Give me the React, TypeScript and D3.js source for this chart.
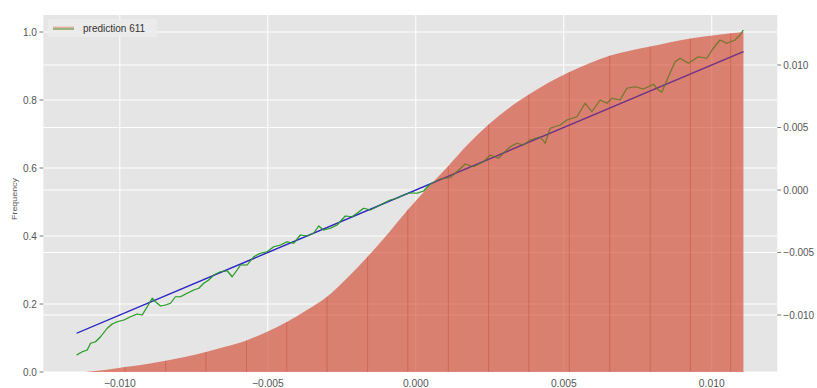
import React, { useEffect, useRef } from 'react';
import * as d3 from 'd3';

// cumulative histogram (left axis), read at bin edges
const binEdges = [
  -0.01118, -0.0105, -0.00982, -0.00913, -0.00845, -0.00777, -0.00709, -0.00641,
  -0.00572, -0.00504, -0.00436, -0.00368, -0.003, -0.00231, -0.00163, -0.00095,
  -0.00027, 0.00041, 0.0011, 0.00178, 0.00246, 0.00314, 0.00382, 0.00451,
  0.00519, 0.00587, 0.00655, 0.00723, 0.00792, 0.0086, 0.00928, 0.00996,
  0.01064, 0.01107,
];
const cumFreq = [
  0.0, 0.006, 0.015, 0.023, 0.033, 0.045, 0.059, 0.075,
  0.093, 0.118, 0.147, 0.182, 0.221, 0.277, 0.339, 0.406,
  0.477, 0.543, 0.606, 0.671, 0.728, 0.776, 0.816, 0.852,
  0.882, 0.908, 0.93, 0.945, 0.957, 0.97, 0.981, 0.989,
  0.996, 1.0,
];

// prediction 611 (right axis)
const predX = [
  -0.011462, -0.011269, -0.011101, -0.010989, -0.01082, -0.010652, -0.010425, -0.010257,
  -0.010088, -0.009865, -0.009639, -0.009413, -0.009244, -0.009075, -0.008906, -0.008795,
  -0.008626, -0.008457, -0.008288, -0.008119, -0.007951, -0.007725, -0.007502, -0.007333,
  -0.007164, -0.006995, -0.006826, -0.0066, -0.006374, -0.006205, -0.006036, -0.005925,
  -0.005699, -0.005476, -0.00525, -0.005024, -0.004801, -0.004575, -0.004348, -0.004126,
  -0.003899, -0.003673, -0.00345, -0.003282, -0.003113, -0.002887, -0.00266, -0.00238,
  -0.002154, -0.001985, -0.001762, -0.001536, -0.00131, -0.001087, -0.000861, -0.000635,
  -0.000412, -0.000186, 0.000041, 0.000263, 0.00049, 0.000827, 0.001165, 0.001391,
  0.001671, 0.001951, 0.002289, 0.002515, 0.002795, 0.002964, 0.00319, 0.003417,
  0.003639, 0.003866, 0.004203, 0.004372, 0.004541, 0.004878, 0.005105, 0.005442,
  0.005722, 0.005949, 0.006229, 0.006455, 0.006624, 0.006904, 0.00713, 0.007411,
  0.007691, 0.008028, 0.008197, 0.008312, 0.008535, 0.008761, 0.00893, 0.00921,
  0.009548, 0.009831, 0.010054, 0.01028, 0.010507, 0.010787, 0.010956, 0.011067,
];
const predY = [
  -0.0132, -0.01294, -0.0128, -0.01226, -0.01214, -0.01174, -0.01106, -0.01072,
  -0.01054, -0.0104, -0.01014, -0.00992, -0.01, -0.00934, -0.00866, -0.00894,
  -0.00928, -0.0092, -0.00906, -0.00854, -0.00854, -0.00826, -0.008, -0.00786,
  -0.00746, -0.0072, -0.0068, -0.00654, -0.00646, -0.00694, -0.0064, -0.006,
  -0.006, -0.00534, -0.00506, -0.00494, -0.00454, -0.0044, -0.00414, -0.00426,
  -0.0036, -0.00368, -0.00346, -0.00288, -0.0032, -0.00306, -0.0028, -0.00208,
  -0.00214, -0.00186, -0.00146, -0.0016, -0.00134, -0.00106, -0.0008, -0.00066,
  -0.0004, -0.00022, -0.00026, -0.00008, 0.00048, 0.00088, 0.001, 0.00146,
  0.00208, 0.00186, 0.00226, 0.0028, 0.00254, 0.00294, 0.00346, 0.00374,
  0.0036, 0.004, 0.00426, 0.00374, 0.00494, 0.0052, 0.0056, 0.00586,
  0.00694, 0.00626, 0.0072, 0.00694, 0.00734, 0.0072, 0.00814, 0.00826,
  0.00808, 0.00846, 0.008, 0.00782, 0.00906, 0.01026, 0.01054, 0.01014,
  0.01066, 0.01054, 0.01134, 0.012, 0.01174, 0.012, 0.0124, 0.0128,
];

// identity reference line
const fitX = [-0.01146, 0.01107];
const fitY = [-0.01146, 0.01107];

const xTicks = [-0.01, -0.005, 0, 0.005, 0.01];
const leftTicks = [0, 0.2, 0.4, 0.6, 0.8, 1.0];
const rightTicks = [-0.01, -0.005, 0, 0.005, 0.01];
const legendLabel = 'prediction 611';
const yLabel = 'Frequency';

const W = 817;
const H = 388;
const FONT = '"Liberation Sans", Arial, sans-serif';

export default function App() {
  const svgRef = useRef(null);

  useEffect(() => {
    const left = 43.3, right = 777.3, top = 15, bottom = 372;

    const svg = d3.select(svgRef.current);
    svg.selectAll('*').remove();

    const x = d3.scaleLinear().domain([-0.012586, 0.012215]).range([left, right]);
    const yL = d3.scaleLinear().domain([0, 1.05]).range([bottom, top]);
    const yR = d3.scaleLinear().domain([-0.01456, 0.014]).range([bottom, top]);

    // plot background
    svg.append('rect')
      .attr('x', left).attr('y', top)
      .attr('width', right - left).attr('height', bottom - top)
      .attr('fill', '#E5E5E5');

    // grid
    const grid = svg.append('g').attr('stroke', '#ffffff').attr('stroke-width', 1);
    leftTicks.forEach(t => grid.append('line')
      .attr('x1', left).attr('x2', right).attr('y1', yL(t)).attr('y2', yL(t)));
    rightTicks.forEach(t => grid.append('line')
      .attr('x1', left).attr('x2', right).attr('y1', yR(t)).attr('y2', yR(t)));
    xTicks.forEach(t => grid.append('line')
      .attr('x1', x(t)).attr('x2', x(t)).attr('y1', top).attr('y2', bottom));

    const predData = predX.map((v, i) => [v, predY[i]]);
    const fitData = fitX.map((v, i) => [v, fitY[i]]);
    const line = d3.line().x(d => x(d[0])).y(d => yR(d[1]));

    const drawLines = (opacity) => {
      svg.append('path').datum(fitData).attr('d', line)
        .attr('fill', 'none').attr('stroke', '#2a26c4').attr('stroke-width', 1.3)
        .attr('opacity', opacity);
      svg.append('path').datum(predData).attr('d', line)
        .attr('fill', 'none').attr('stroke', '#2f9e2c').attr('stroke-width', 1.2)
        .attr('stroke-linejoin', 'round').attr('opacity', opacity);
    };
    drawLines(1);

    // cumulative histogram
    const histData = binEdges.map((v, i) => [v, cumFreq[i]]);
    const area = d3.area()
      .x(d => x(d[0]))
      .y0(yL(0))
      .y1(d => yL(d[1]))
      .curve(d3.curveMonotoneX);
    svg.append('path').datum(histData).attr('d', area)
      .attr('fill', '#d24a33').attr('opacity', 0.65);

    // bar edges
    histData.forEach((d, i) => {
      if (i === 0 || i % 2 !== 0 || i === histData.length - 1) return;
      svg.append('line')
        .attr('x1', x(d[0])).attr('x2', x(d[0]))
        .attr('y1', yL(0)).attr('y2', yL(d[1]))
        .attr('stroke', '#c8432c').attr('stroke-width', 1).attr('opacity', 0.4);
    });

    drawLines(0.35);

    const fmt1 = d3.format('.1f');
    const fmt3 = d3.format('.3f');

    // left axis
    const la = svg.append('g').attr('font-family', FONT).attr('font-size', 10).attr('fill', '#555');
    leftTicks.forEach(t => {
      la.append('line').attr('x1', left - 3.8).attr('x2', left).attr('y1', yL(t)).attr('y2', yL(t))
        .attr('stroke', '#555').attr('stroke-width', 0.8);
      la.append('text').attr('x', left - 6.5).attr('y', yL(t)).attr('dy', '0.35em')
        .attr('text-anchor', 'end').text(fmt1(t));
    });

    // right axis
    const ra = svg.append('g').attr('font-family', FONT).attr('font-size', 10).attr('fill', '#555');
    rightTicks.forEach(t => {
      ra.append('line').attr('x1', right).attr('x2', right + 3.8).attr('y1', yR(t)).attr('y2', yR(t))
        .attr('stroke', '#555').attr('stroke-width', 0.8);
      ra.append('text').attr('x', right + 6).attr('y', yR(t)).attr('dy', '0.35em')
        .attr('text-anchor', 'start').text(fmt3(t));
    });

    // bottom axis
    const ba = svg.append('g').attr('font-family', FONT).attr('font-size', 10.3).attr('fill', '#555');
    xTicks.forEach(t => {
      ba.append('text').attr('x', x(t)).attr('y', 386.5)
        .attr('text-anchor', 'middle').text(fmt3(t));
    });

    // y label
    svg.append('text')
      .attr('transform', `translate(16.5,199) rotate(-90)`)
      .attr('text-anchor', 'middle')
      .attr('font-family', FONT).attr('font-size', 7).attr('fill', '#555')
      .attr('textLength', 42).attr('lengthAdjust', 'spacingAndGlyphs')
      .text(yLabel);

    // legend
    const lg = svg.append('g');
    lg.append('rect').attr('x', 48).attr('y', 19).attr('width', 109).attr('height', 18)
      .attr('rx', 1.5).attr('fill', '#ebebeb').attr('opacity', 0.9);
    lg.append('line').attr('x1', 53).attr('x2', 74).attr('y1', 27.4).attr('y2', 27.4)
      .attr('stroke', '#d9b6a0').attr('stroke-width', 1.6);
    lg.append('line').attr('x1', 53).attr('x2', 74).attr('y1', 29).attr('y2', 29)
      .attr('stroke', '#7f9b55').attr('stroke-width', 1.4);
    lg.append('text').attr('x', 83).attr('y', 31.8)
      .attr('font-family', FONT).attr('font-size', 10).attr('fill', '#333')
      .text(legendLabel);
  }, []);

  return (
    <svg ref={svgRef} width={W} height={H}
      style={{ position: 'absolute', left: 0, top: 0, background: '#fff' }} />
  );
}
